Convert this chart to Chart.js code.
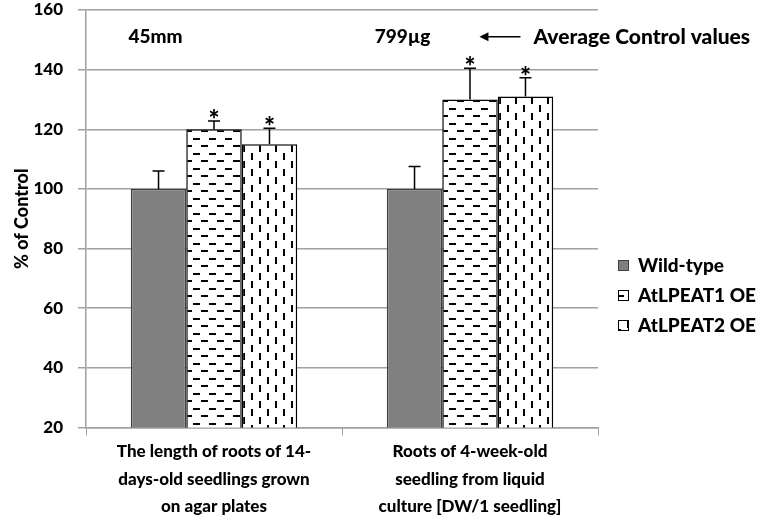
<!DOCTYPE html>
<html>
<head>
<meta charset="utf-8">
<script src="https://cdn.jsdelivr.net/npm/chart.js@4.4.1/dist/chart.umd.min.js"></script>
<style>
  html, body { margin: 0; padding: 0; background: #fff; }
  #wrap { width: 762px; height: 523px; }
</style>
</head>
<body>
<div id="wrap"><canvas id="chart" width="762" height="523"></canvas></div>
<script>
const categories = [
  ['The length of roots of 14-', 'days-old seedlings grown', 'on agar plates'],
  ['Roots of 4-week-old', 'seedling from liquid', 'culture [DW/1 seedling]']
];
const seriesNames = ['Wild-type', 'AtLPEAT1 OE', 'AtLPEAT2 OE'];
const wildType = [100, 100];
const lpeat1 = [120, 130];
const lpeat2 = [115, 131];
const wildTypeErr = [6, 7.5];
const lpeat1Err = [2.8, 10.5];
const lpeat2Err = [5.3, 6.3];
const lpeat1Star = [true, true];
const lpeat2Star = [true, true];
const controlValues = ['45mm', '799\u00b5g'];
const controlNote = 'Average Control values';

const FONT = 'Lato, "Liberation Sans", sans-serif';
const W = '900';
const noteShift = [-3, -12];

function hDashPattern() {
  const c = document.createElement('canvas');
  c.width = 16; c.height = 15;
  const g = c.getContext('2d');
  g.fillStyle = '#fff'; g.fillRect(0, 0, 16, 15);
  g.fillStyle = '#000';
  g.fillRect(1, 3, 7, 2);
  g.fillRect(9, 10, 7, 2);
  return g.createPattern(c, 'repeat');
}
function vDashPattern() {
  const c = document.createElement('canvas');
  c.width = 16; c.height = 16;
  const g = c.getContext('2d');
  g.fillStyle = '#fff'; g.fillRect(0, 0, 16, 16);
  g.fillStyle = '#000';
  g.fillRect(3, 1, 2, 7);
  g.fillRect(11, 9, 2, 7);
  return g.createPattern(c, 'repeat');
}

const fills = ['#808080', hDashPattern(), vDashPattern()];
const borders = ['#404040', '#000', '#000'];
const errs = [wildTypeErr, lpeat1Err, lpeat2Err];
const stars = [[false, false], lpeat1Star, lpeat2Star];

const extras = {
  id: 'extras',
  afterDatasetsDraw(chart) {
    const ctx = chart.ctx;
    const y = chart.scales.y;
    ctx.save();
    // error bars and asterisks
    chart.data.datasets.forEach((ds, di) => {
      const meta = chart.getDatasetMeta(di);
      meta.data.forEach((bar, i) => {
        const top = y.getPixelForValue(ds.data[i] + errs[di][i]);
        ctx.strokeStyle = '#000';
        ctx.lineWidth = 1.5;
        ctx.beginPath();
        ctx.moveTo(bar.x, bar.y);
        ctx.lineTo(bar.x, top);
        ctx.moveTo(bar.x - 6, top);
        ctx.lineTo(bar.x + 6, top);
        ctx.stroke();
        if (stars[di][i]) {
          ctx.fillStyle = '#000';
          ctx.font = W + ' 26px ' + FONT;
          ctx.textAlign = 'center';
          ctx.textBaseline = 'alphabetic';
          ctx.fillText('*', bar.x, top + 8);
        }
      });
    });
    // control annotations
    const ty = y.getPixelForValue(151);
    ctx.fillStyle = '#000';
    ctx.font = W + ' 19px ' + FONT;
    ctx.textAlign = 'center';
    ctx.textBaseline = 'middle';
    const m0 = chart.getDatasetMeta(0).data;
    controlValues.forEach((t, i) => {
      ctx.fillText(t, m0[i].x + noteShift[i], ty);
    });
    const ax = chart.getDatasetMeta(2).data[1].x;
    ctx.strokeStyle = '#000';
    ctx.lineWidth = 1.5;
    ctx.beginPath();
    ctx.moveTo(ax - 42, ty);
    ctx.lineTo(ax - 5, ty);
    ctx.stroke();
    ctx.beginPath();
    ctx.moveTo(ax - 46, ty);
    ctx.lineTo(ax - 37, ty - 4.5);
    ctx.lineTo(ax - 37, ty + 4.5);
    ctx.closePath();
    ctx.fill();
    ctx.textAlign = 'left';
    ctx.font = W + ' 21px ' + FONT;
    ctx.fillText(controlNote, ax + 8, ty);
    // legend
    const lx = chart.chartArea.right + 20;
    const ly = chart.chartArea.top + 256;
    chart.data.datasets.forEach((ds, di) => {
      const yy = ly + di * 30;
      ctx.fillStyle = fills[di];
      ctx.fillRect(lx, yy - 6, 11, 11);
      ctx.strokeStyle = borders[di];
      ctx.lineWidth = 1;
      ctx.strokeRect(lx + 0.5, yy - 5.5, 10, 10);
      ctx.fillStyle = '#000';
      ctx.font = W + ' 19px ' + FONT;
      ctx.textBaseline = 'middle';
      ctx.fillText(ds.label, lx + 20, yy);
    });
    ctx.restore();
  }
};

new Chart(document.getElementById('chart'), {
  type: 'bar',
  data: {
    labels: categories,
    datasets: [
      { label: seriesNames[0], data: wildType, backgroundColor: fills[0], borderColor: borders[0], borderWidth: 1.5 },
      { label: seriesNames[1], data: lpeat1, backgroundColor: fills[1], borderColor: borders[1], borderWidth: 1.5 },
      { label: seriesNames[2], data: lpeat2, backgroundColor: fills[2], borderColor: borders[2], borderWidth: 1.5 }
    ]
  },
  options: {
    responsive: false,
    animation: false,
    categoryPercentage: 0.65,
    barPercentage: 1.0,
    layout: { padding: { top: 10, right: 164, bottom: 0, left: 8 } },
    plugins: {
      legend: { display: false },
      tooltip: { enabled: false }
    },
    scales: {
      x: {
        grid: { display: true, drawOnChartArea: false, offset: true, color: '#a0a0a0', tickLength: 8 },
        border: { color: '#a0a0a0', width: 1.5 },
        ticks: { color: '#000', font: { family: FONT, size: 17, weight: W, lineHeight: 1.6 }, padding: 3, maxRotation: 0 }
      },
      y: {
        min: 20,
        max: 160,
        afterFit: (scale) => { scale.width = 78; scale.paddingTop = 0; },
        ticks: { stepSize: 20, color: '#000', font: { family: FONT, size: 17, weight: W }, padding: 15 },
        grid: { color: '#a0a0a0', lineWidth: 1.5, tickLength: 8 },
        border: { color: '#a0a0a0', width: 1.5 },
        title: { display: true, text: '% of Control', color: '#000', font: { family: FONT, size: 18, weight: W }, padding: 3 }
      }
    }
  },
  plugins: [extras]
});
</script>
</body>
</html>
